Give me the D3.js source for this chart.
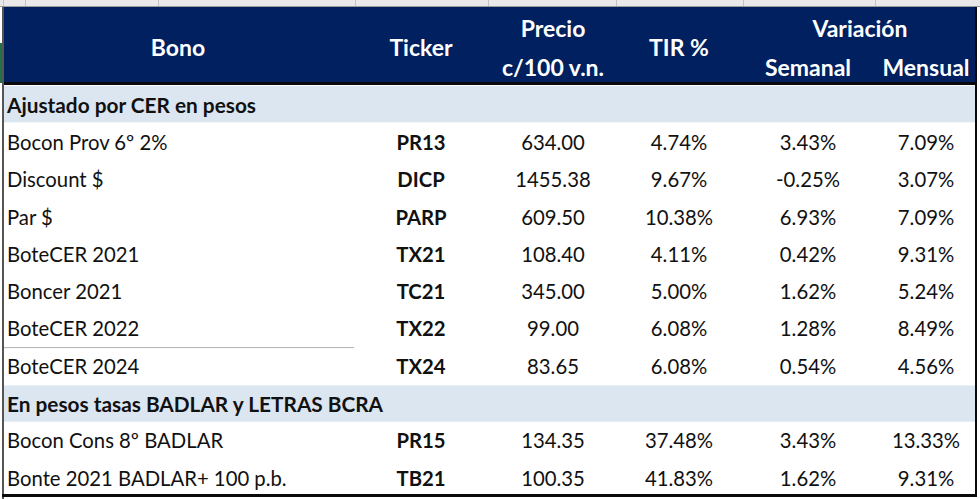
<!DOCTYPE html>
<html><head><meta charset="utf-8">
<script src="https://cdn.jsdelivr.net/npm/d3@7"></script>
<style>body{margin:0;background:#fff}svg{display:block}text{font-family:Lato,"Open Sans",sans-serif}</style>
</head><body>
<script>
const bonos = ["Bocon Prov 6º 2%","Discount $","Par $","BoteCER 2021","Boncer 2021","BoteCER 2022","BoteCER 2024","Bocon Cons 8º BADLAR","Bonte 2021 BADLAR+ 100 p.b."];
const tickers = ["PR13","DICP","PARP","TX21","TC21","TX22","TX24","PR15","TB21"];
const precio = [634.00,1455.38,609.50,108.40,345.00,99.00,83.65,134.35,100.35];
const tir = [4.74,9.67,10.38,4.11,5.00,6.08,6.08,37.48,41.83];
const semanal = [3.43,-0.25,6.93,0.42,1.62,1.28,0.54,3.43,1.62];
const mensual = [7.09,3.07,7.09,9.31,5.24,8.49,4.56,13.33,9.31];
const grupo = [0,0,0,0,0,0,0,1,1];
const secciones = ["Ajustado por CER en pesos","En pesos tasas BADLAR y LETRAS BCRA"];
const encabezados = ["Bono","Ticker","Precio","c/100 v.n.","TIR %","Variación","Semanal","Mensual"];

const W=980,H=499;
const svg=d3.select("body").append("svg").attr("width",W).attr("height",H);

const rows=[];
secciones.forEach((s,g)=>{
  rows.push({type:"sec",label:s});
  bonos.forEach((b,i)=>{ if(grupo[i]===g) rows.push({type:"data",i}); });
});
const y=d3.scaleBand().domain(d3.range(rows.length)).range([86,496.3]);
const cols={bono:7,ticker:421,precio:553,tir:679,sem:808,men:926,bonoH:178,varH:860};
const loc=d3.formatLocale({decimal:".",thousands:",",grouping:[3],currency:["$",""],minus:"-"});
const fmt2=loc.format(".2f");
const pct=v=>fmt2(v)+"%";

// top excel strip
svg.append("rect").attr("x",0).attr("y",0).attr("width",W).attr("height",6).attr("fill","#e9e9e9");
svg.append("line").attr("x1",0).attr("x2",W).attr("y1",6.5).attr("y2",6.5).attr("stroke","#9a9a9a");
[3,25,158,355,488,616,743,875].forEach(x=>svg.append("line").attr("x1",x+.5).attr("x2",x+.5).attr("y1",0).attr("y2",6).attr("stroke","#c4c4c4"));

// header
svg.append("rect").attr("x",3).attr("y",7).attr("width",973).attr("height",76).attr("fill","#002060");
svg.append("rect").attr("x",3).attr("y",82).attr("width",974).attr("height",3).attr("fill","#0a0a0a");
svg.append("rect").attr("x",0).attr("y",43).attr("width",3).attr("height",40).attr("fill","#217346");

const hdr=[
 [encabezados[0],cols.bonoH,47],[encabezados[1],cols.ticker,47],[encabezados[2],cols.precio,28],[encabezados[3],cols.precio,67],
 [encabezados[4],cols.tir,47],[encabezados[5],cols.varH,28],[encabezados[6],cols.sem,67],[encabezados[7],cols.men,67]];
svg.selectAll("text.h").data(hdr).join("text").attr("class","h")
 .attr("x",d=>d[1]).attr("y",d=>d[2]).attr("text-anchor","middle").attr("dominant-baseline","central")
 .attr("fill","#fff").attr("font-weight","bold").attr("font-size",23).text(d=>d[0]);

const g=svg.append("g");
rows.forEach((r,k)=>{
  const yc=y(k)+y.bandwidth()/2;
  if(r.type==="sec"){
    g.append("rect").attr("x",3).attr("y",y(k)+(k===0?0:1)).attr("width",972).attr("height",y.bandwidth()-1).attr("fill","#dce6f1");
    g.append("text").attr("x",cols.bono).attr("y",yc).attr("dominant-baseline","central").attr("font-weight","bold")
     .attr("font-size",20.8).attr("fill","#111").text(r.label);
  } else {
    const i=r.i;
    const cells=[[bonos[i],cols.bono,"start","normal"],[tickers[i],cols.ticker,"middle","bold"],[fmt2(precio[i]),cols.precio,"middle","normal"],
      [pct(tir[i]),cols.tir,"middle","normal"],[pct(semanal[i]),cols.sem,"middle","normal"],[pct(mensual[i]),cols.men,"middle","normal"]];
    cells.forEach(c=>g.append("text").attr("x",c[1]).attr("y",yc).attr("dominant-baseline","central").attr("text-anchor",c[2])
      .attr("font-weight",c[3]).attr("font-size",20.3).attr("fill","#111").text(c[0]));
  }
});
const k22=rows.findIndex(r=>r.type==="data"&&r.i===5);
svg.append("line").attr("x1",3).attr("x2",354).attr("y1",y(k22)+y.bandwidth()+.5).attr("y2",y(k22)+y.bandwidth()+.5).attr("stroke","#b0b0b0");
svg.append("rect").attr("x",2).attr("y",7).attr("width",2).attr("height",H-7).attr("fill","#555");
svg.append("rect").attr("x",975).attr("y",7).attr("width",2).attr("height",490).attr("fill","#0a0a0a");
svg.append("rect").attr("x",2).attr("y",494).attr("width",975).attr("height",3).attr("fill","#0a0a0a");
</script>
</body></html>
